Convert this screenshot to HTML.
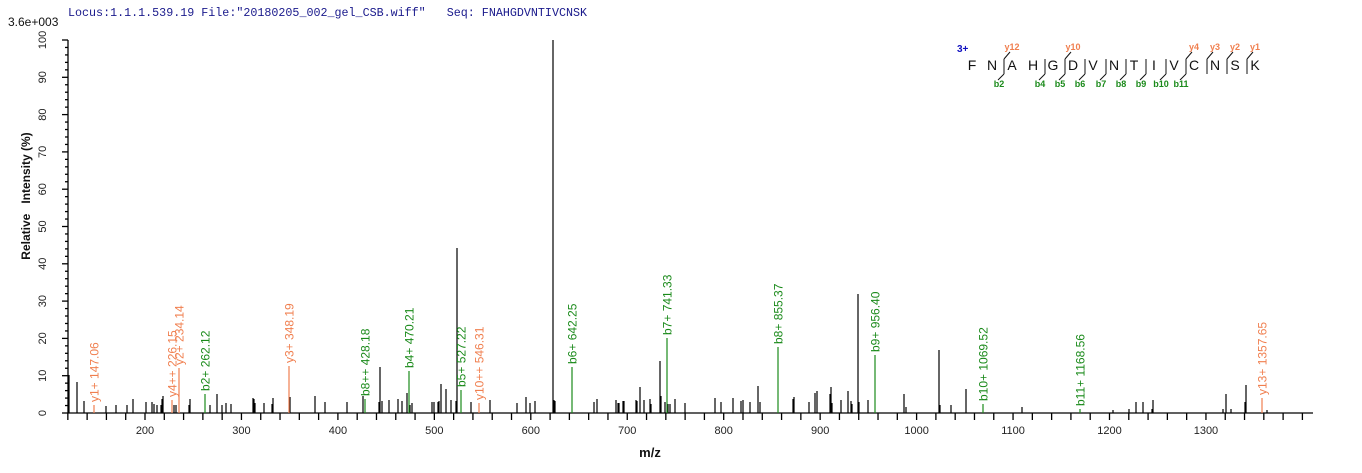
<!DOCTYPE html>
<html><head><meta charset="utf-8"><style>
html,body{margin:0;padding:0;background:#fff;}
svg{display:block;font-family:"Liberation Sans",Arial,sans-serif;}
</style></head><body>
<svg id="s" width="1362" height="473" viewBox="0 0 1362 473" xmlns="http://www.w3.org/2000/svg">
<text x="68" y="16" font-family="Liberation Mono,monospace" font-size="11.7" fill="#1a1a8c" xml:space="preserve">Locus:1.1.1.539.19 File:"20180205_002_gel_CSB.wiff"   Seq: FNAHGDVNTIVCNSK</text>
<rect x="60" y="0" width="700" height="5" fill="#fff"/>
<text x="8" y="26" font-size="12" fill="#111">3.6e+003</text>
<text transform="translate(30,196) rotate(-90)" text-anchor="middle" font-size="12" font-weight="bold" fill="#111" xml:space="preserve">Relative   Intensity (%)</text>
<text x="650" y="457" text-anchor="middle" font-size="13" font-weight="bold" fill="#111">m/z</text>
<g id="axes" stroke="#000" stroke-width="1.3"></g>
<g id="peaks" stroke="#000" stroke-width="1.2"></g>
<g id="lab"></g>
<g id="pep"></g>
</svg>
<script>
var NS="http://www.w3.org/2000/svg";
function el(p,t,a,txt){var e=document.createElementNS(NS,t);for(var k in a)e.setAttribute(k,a[k]);if(txt!=null)e.textContent=txt;p.appendChild(e);return e;}
var ax=document.getElementById('axes'),pk=document.getElementById('peaks'),lb=document.getElementById('lab'),pp=document.getElementById('pep'),s=document.getElementById('s');
el(ax,'line',{x1:68,y1:413,x2:1313,y2:413});
el(ax,'line',{x1:68,y1:40,x2:68,y2:413});
function X(m){return 145+(m-200)*0.9645;}
for(var m=120;m<=1400;m+=20){var x=X(m);var maj=m%100==0;el(ax,'line',{x1:x,y1:413,x2:x,y2:420});
 if(maj&&m>=200&&m<=1300)el(s,'text',{x:x,y:434,'text-anchor':'middle','font-size':11,fill:'#222'},m);}
for(var p=0;p<=100;p+=2){var y=413-p*3.73;var maj=p%10==0;el(ax,'line',{x1:maj?62:65,y1:y,x2:68,y2:y});
 if(maj)el(s,'text',{transform:'translate(46,'+y+') rotate(-90)','text-anchor':'middle','font-size':11,fill:'#222'},p);}
var P=[69,375,77,382,84,401,106,406,116,405,127,405,133,399,146,402,152,402,154,404,157,405,161,405,162,399,163,396,174,405,176,405,189,405,190,399,210,405,217,394,222,405,226,403,231,404,253,398,254,399,255,403,264,403,272,404,273,398,290,397,315,396,325,402,347,402,363,396,379,402,380,367,382,401,389,400,398,399,402,401,407,393,410,405,412,403,432,402,434,402,438,402,439,401,441,384,446,389,451,400,456,401,457,248,471,402,490,400,517,403,526,397,530,403,535,401,553,40,554,400,555,401,594,402,597,399,616,400,618,403,619,403,623,401,624,401,636,400,637,401,640,387,644,400,650,399,651,404,660,361,661,396,665,402,668,404,670,404,675,399,685,403,715,398,721,402,733,398,741,401,743,400,750,402,758,386,760,402,793,399,794,397,809,402,815,393,817,391,830,394,831,387,832,403,841,400,848,391,851,401,852,404,858,294,859,402,868,400,904,394,906,407,939,350,940,405,951,405,966,389,1022,407,1113,410,1129,409,1136,402,1143,402,1152,409,1153,400,1223,409,1226,394,1231,409,1245,402,1246,385,1267,410];
for(var i=0;i<P.length;i+=2)el(pk,'line',{x1:P[i],y1:413,x2:P[i],y2:P[i+1]});
var O='#f07f4f',G='#1a8a1a';
var L=[[94,405,'y1+ 147.06',O],[172,400,'y4++ 226.15',O],[179,368,'y2+ 234.14',O],[205,394,'b2+ 262.12',G],[289,366,'y3+ 348.19',O],[365,399,'b8++ 428.18',G],[409,371,'b4+ 470.21',G],[461,390,'b5+ 527.22',G],[479,403,'y10++ 546.31',O],[572,367,'b6+ 642.25',G],[667,338,'b7+ 741.33',G],[778,347,'b8+ 855.37',G],[875,355,'b9+ 956.40',G],[983,404,'b10+ 1069.52',G],[1080,409,'b11+ 1168.56',G],[1262,398,'y13+ 1357.65',O]];
L.forEach(function(a){el(lb,'line',{x1:a[0],y1:413,x2:a[0],y2:a[1],stroke:a[3],'stroke-width':1.2});
 el(lb,'text',{transform:'translate('+(a[0]+4.5)+','+(a[1]-3)+') rotate(-90)','font-size':12,fill:a[3]},a[2]);});
el(pp,'text',{x:957,y:52,'font-size':10,'font-weight':'bold',fill:'#1010c0'},'3+');
var seq='FNAHGDVNTIVCNSK';var xs=[972,992,1012,1033,1053,1073,1093,1114,1134,1154,1174,1194,1215,1235,1255];
for(var i=0;i<seq.length;i++)el(pp,'text',{x:xs[i],y:70,'text-anchor':'middle','font-size':14,fill:'#111'},seq[i]);
var cuts={2:['y12','b2'],4:['','b4'],5:['y10','b5'],6:['','b6'],7:['','b7'],8:['','b8'],9:['','b9'],10:['','b10'],11:['y4','b11'],12:['y3',''],13:['y2',''],14:['y1','']};
for(var k in cuts){var x=xs[k]-8;var c=cuts[k];
 el(pp,'line',{x1:x,y1:59,x2:x,y2:74,stroke:'#111','stroke-width':1});
 if(c[0]){el(pp,'line',{x1:x,y1:59,x2:x+6,y2:52,stroke:'#111','stroke-width':1});el(pp,'text',{x:x+8,y:50,'text-anchor':'middle','font-size':9,'font-weight':'bold',fill:O},c[0]);}
 if(c[1]){el(pp,'line',{x1:x,y1:74,x2:x-6,y2:80,stroke:'#111','stroke-width':1});el(pp,'text',{x:x-5,y:87,'text-anchor':'middle','font-size':9,'font-weight':'bold',fill:G},c[1]);}
}
</script>
</body></html>
